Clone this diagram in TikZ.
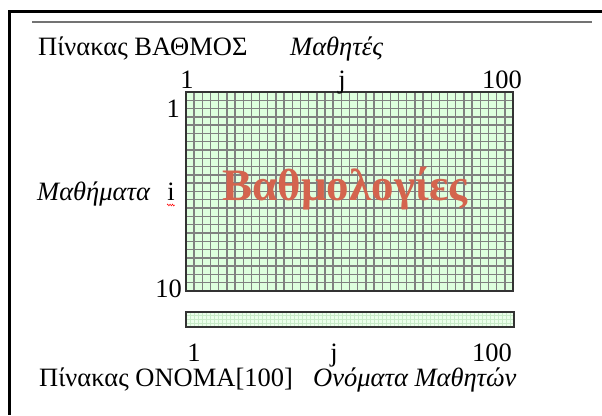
\documentclass[tikz,border=0pt]{standalone}
\usepackage{fontspec}
\setmainfont{Liberation Serif}
\usetikzlibrary{positioning,decorations.pathmorphing}
\definecolor{cellgreen}{RGB}{222,255,222}
\definecolor{gradered}{RGB}{212,100,78}
\definecolor{lightline}{RGB}{200,235,200}
\begin{document}
\begin{tikzpicture}[x=1pt, y=-1pt,
    lbl/.style={inner sep=0pt, font=\fontsize{26.5}{30}\selectfont},
    gridbox/.style={rectangle, draw=black!80, line width=2pt, fill=cellgreen, inner sep=0pt},
    gridline/.style={draw=black!50, line width=1.4pt},
    fineline/.style={draw=lightline, line width=0.8pt},
    frame/.style={draw=black, line width=3pt}]
    \useasboundingbox (0,0) rectangle (602,415);
    \draw[frame] (8,11.5) -- (602,11.5);
    \draw[frame] (9.5,10) -- (9.5,415);
    \draw[black!55, line width=1.5pt] (32,22) -- (592,22);

    % grades table
    \fill[cellgreen] (186,92) rectangle (513,291);
    \foreach \k in {1,...,39}
        \draw[gridline] ({186+\k*8.175},92) -- ++(0,199);
    \foreach \k in {1,...,23}
        \draw[gridline] (186,{92+\k*8.29}) -- ++(327,0);
    \node[gridbox, fill=none, minimum width=327pt, minimum height=199pt] (grid) at (349.5,191.5) {};

    % names table
    \begin{scope}
        \clip (187,313) rectangle (513,326);
        \fill[cellgreen!60!white] (187,313) rectangle (513,326);
        \foreach \k in {1,...,81}
            \draw[fineline] ({186+\k*4},312) -- ++(0,15);
        \foreach \k in {1,...,3}
            \draw[fineline] (186,{312+\k*3.75}) -- ++(328,0);
    \end{scope}
    \node[gridbox, line width=1.8pt, fill=none, minimum width=328pt, minimum height=15pt] (bar) at (350,319.5) {};

    \node[lbl, anchor=base west] (title1) at (38,55) {Πίνακας ΒΑΘΜΟΣ};
    \node[lbl, anchor=base west] (cols) at (290,55) {\textit{Μαθητές}};
    \node[lbl, anchor=base] (c1) at (187,88) {1};
    \node[lbl, anchor=base] (cj) at (342,88) {j};
    \node[lbl, anchor=base east] (c100) at (522,88) {100};
    \node[lbl, anchor=base east] (r1) at (180,117) {1};
    \node[lbl, anchor=base] (ri) at (171,200) {i};
    \node[lbl, anchor=base east] (r10) at (182,297) {10};
    \node[lbl, anchor=base west] (rows) at (37,200) {\textit{Μαθήματα}};
    \draw[red, line width=0.5pt, decorate, decoration={zigzag, amplitude=0.9pt, segment length=2.4pt}]
        ([yshift=-5pt]ri.base west) -- ([yshift=-5pt]ri.base east);

    \node[inner sep=0pt, anchor=base, text=gradered, font=\fontsize{45}{50}\selectfont\bfseries] (grades) at (345,200) {Βαθμολογίες};

    \node[lbl, anchor=base] (n1) at (194,361) {1};
    \node[lbl, anchor=base] (nj) at (334,361) {j};
    \node[lbl, anchor=base east] (n100) at (512,361) {100};
    \node[lbl, anchor=base west] (title2) at (39,386) {Πίνακας ΟΝΟΜΑ[100]};
    \node[lbl, anchor=base west] (names) at (313,386) {\textit{Ονόματα Μαθητών}};
\end{tikzpicture}
\end{document}
